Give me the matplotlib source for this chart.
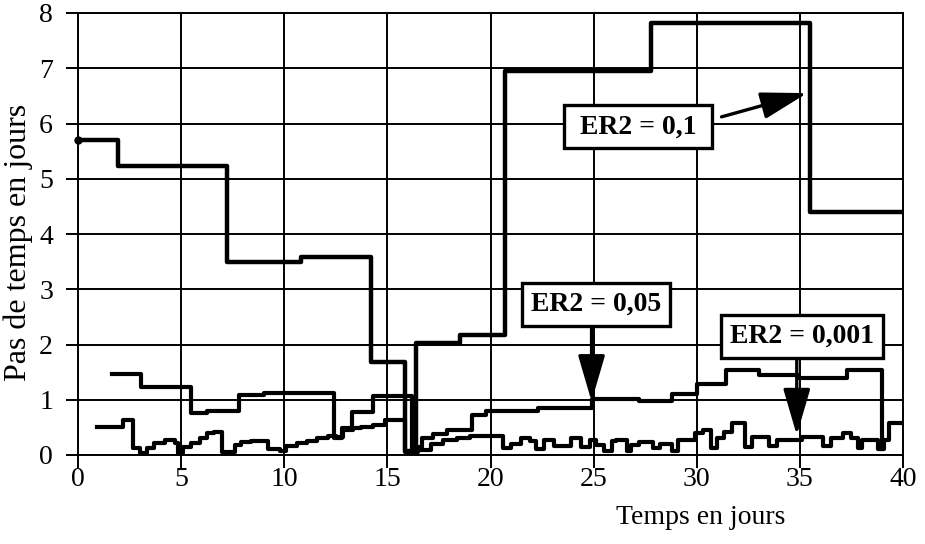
import matplotlib.pyplot as plt

plt.rcParams["font.family"] = ["Liberation Serif", "DejaVu Serif"]

# ER2 = 0,1
x_er01 = [0, 1.95, 7.2, 10.8, 14.2, 15.85, 16.4, 18.5, 20.7, 27.8, 35.5, 40]
y_er01 = [5.71, 5.23, 3.49, 3.58, 1.68, 0.08, 2.03, 2.17, 6.95, 7.81, 4.39, 4.39]

# ER2 = 0,05
x_er005 = [1.65, 3.05, 5.5, 6.25, 7.8, 9.0, 12.4, 12.8, 13.3, 14.3, 16.2, 16.4,
           16.7, 17.2, 17.9, 19.1, 19.8, 22.3, 24.9, 27.2, 28.8, 30.0, 31.4,
           33.0, 34.9, 37.3, 39.0]
y_er005 = [1.47, 1.23, 0.76, 0.79, 1.08, 1.12, 0.31, 0.49, 0.77, 1.06, 0.08, 0.14,
           0.30, 0.38, 0.45, 0.72, 0.80, 0.85, 1.01, 0.98, 1.10, 1.28, 1.54,
           1.45, 1.40, 1.54, 0.10]

# ER2 = 0,001
x_er0001 = [0.93, 2.2, 2.67, 3.0, 3.35, 3.7, 4.2, 4.7, 4.85, 5.1, 5.5, 5.9, 6.25,
            6.6, 7.0, 7.6, 7.9, 8.4, 9.2, 9.8, 10.1, 10.6, 11.1, 11.6, 12.1,
            12.5, 12.85, 13.35, 13.7, 14.3, 14.9, 15.85, 16.5, 17.1, 17.7, 18.4,
            19.0, 20.6, 21.0, 21.5, 21.9, 22.2, 22.6, 23.1, 23.9, 24.4, 24.8,
            25.1, 25.5, 25.9, 26.1, 26.6, 26.8, 27.2, 27.9, 28.2, 28.8, 29.1,
            29.9, 30.3, 30.7, 31.0, 31.3, 31.7, 32.35, 32.7, 33.5, 33.9, 35.1,
            36.1, 36.5, 37.1, 37.5, 37.8, 38.0, 38.8, 39.1, 39.3, 40]
y_er0001 = [0.51, 0.63, 0.13, 0.04, 0.13, 0.22, 0.27, 0.22, 0.04, 0.15, 0.22, 0.31,
            0.40, 0.42, 0.05, 0.18, 0.24, 0.26, 0.10, 0.08, 0.16, 0.22, 0.26,
            0.31, 0.35, 0.33, 0.45, 0.48, 0.50, 0.55, 0.63, 0.05, 0.09, 0.20,
            0.27, 0.30, 0.35, 0.12, 0.20, 0.30, 0.25, 0.10, 0.28, 0.16, 0.31,
            0.14, 0.28, 0.19, 0.08, 0.25, 0.28, 0.08, 0.18, 0.23, 0.12, 0.20,
            0.08, 0.28, 0.39, 0.45, 0.12, 0.31, 0.42, 0.58, 0.15, 0.33, 0.16,
            0.28, 0.33, 0.16, 0.30, 0.39, 0.30, 0.12, 0.28, 0.10, 0.28, 0.58,
            0.58]

fig = plt.figure(figsize=(9.25, 5.44), dpi=100)
ax = fig.add_axes([78 / 925, 1 - 455 / 544, 825 / 925, 442 / 544])

ax.step(x_er0001, y_er0001, where="post", color="black", lw=3.0, zorder=3)
ax.step(x_er005, y_er005, where="post", color="black", lw=3.0, zorder=3)
ax.step(x_er01, y_er01, where="post", color="black", lw=3.2, zorder=4)
ax.plot(x_er01[0], y_er01[0], "o", color="black", ms=5, zorder=4, clip_on=False)

ax.set_xlim(0, 40)
ax.set_ylim(0, 8)
ax.set_xticks(range(0, 41, 5))
ax.set_yticks(range(0, 9))
ax.grid(color="black", lw=1.4)
ax.set_axisbelow(True)
for s in ax.spines.values():
    s.set_linewidth(1.4)
ax.tick_params(direction="out", length=9, width=1.4, labelsize=20)
ax.tick_params(axis="x", pad=0)
ax.tick_params(axis="y", pad=9)

fig.text(18 / 925, 1 - 242 / 544, "Pas de temps en jours", rotation=90,
         ha="center", va="center", fontsize=23)
fig.text(701 / 925, 1 - 517 / 544, "Temps en jours", ha="center", va="center",
         fontsize=20)

box = dict(boxstyle="square,pad=0.32", fc="white", ec="black", lw=2.4)
arrow = dict(arrowstyle="-|>,head_length=1.3,head_width=0.38", color="black",
             lw=2.4, mutation_scale=22, shrinkA=0, shrinkB=0)

ax.annotate("", xy=(35.35, 6.55), xytext=(31.2, 6.12), arrowprops=arrow, zorder=5)
ax.annotate("", xy=(24.9, 0.97), xytext=(24.9, 2.35), arrowprops=arrow, zorder=5)
ax.annotate("", xy=(34.85, 0.36), xytext=(34.85, 1.77), arrowprops=arrow, zorder=5)

ax.text(27.15, 5.94, " ER2 = 0,1 ", ha="center", va="center", fontsize=20,
        fontweight="bold", bbox=box, zorder=6)
ax.text(25.1, 2.73, "ER2 = 0,05", ha="center", va="center", fontsize=20,
        fontweight="bold", bbox=box, zorder=6)
ax.text(35.1, 2.15, "ER2 = 0,001", ha="center", va="center", fontsize=20,
        fontweight="bold", bbox=box, zorder=6)

fig.savefig("out.png", dpi=100)
